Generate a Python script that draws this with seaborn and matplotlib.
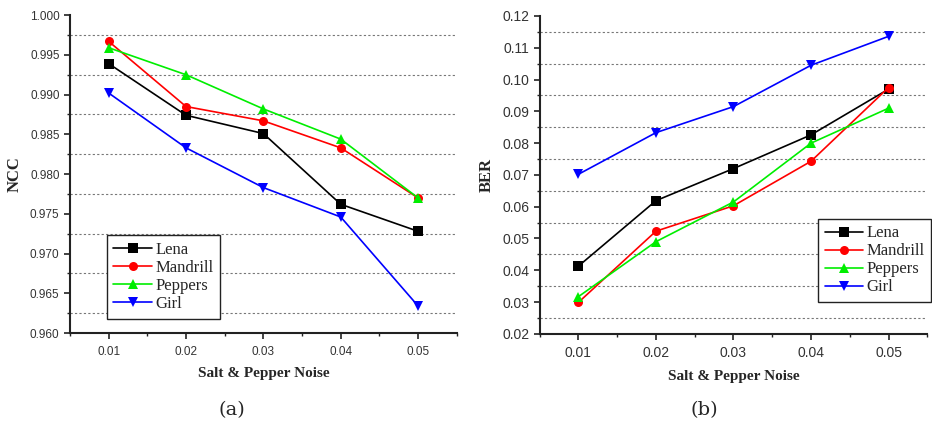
import matplotlib
matplotlib.use("Agg")
import matplotlib.pyplot as plt
import seaborn as sns
import pandas as pd
from matplotlib.ticker import MultipleLocator, FormatStrFormatter

noise = [0.01, 0.02, 0.03, 0.04, 0.05]
images = ["Lena", "Mandrill", "Peppers", "Girl"]

ncc_lena = [0.9939, 0.9874, 0.9851, 0.9762, 0.9728]
ncc_mandrill = [0.9967, 0.9885, 0.9867, 0.9833, 0.9770]
ncc_peppers = [0.9959, 0.9925, 0.9882, 0.9844, 0.9770]
ncc_girl = [0.9902, 0.9833, 0.9783, 0.9746, 0.9634]

ber_lena = [0.0413, 0.0619, 0.0720, 0.0826, 0.0970]
ber_mandrill = [0.0299, 0.0523, 0.0603, 0.0743, 0.0975]
ber_peppers = [0.0317, 0.0490, 0.0615, 0.0800, 0.0910]
ber_girl = [0.0702, 0.0833, 0.0915, 0.1045, 0.1136]

colors = {"Lena": "#000000", "Mandrill": "#ff0000", "Peppers": "#00ee00", "Girl": "#0000ff"}
markers = {"Lena": "s", "Mandrill": "o", "Peppers": "^", "Girl": "v"}

def long_df(series):
    rows = []
    for name, vals in zip(images, series):
        for x, v in zip(noise, vals):
            rows.append({"noise": x, "value": v, "image": name})
    return pd.DataFrame(rows)

df_ncc = long_df([ncc_lena, ncc_mandrill, ncc_peppers, ncc_girl])
df_ber = long_df([ber_lena, ber_mandrill, ber_peppers, ber_girl])

sns.set_style("ticks")
fig = plt.figure(figsize=(9.32, 4.21), dpi=100)
ax1 = fig.add_axes([0.0751, 0.209, 0.415, 0.755])
ax2 = fig.add_axes([0.579, 0.207, 0.416, 0.755])

tick_font = "Liberation Sans"
serif = "Liberation Serif"

def draw(ax, df, ylabel, ylim, major, minor, fmt, tick_fs, legend_loc):
    sns.lineplot(data=df, x="noise", y="value", hue="image", style="image",
                 palette=colors, markers=markers, dashes=False, ax=ax,
                 linewidth=1.2, markersize=6.5, markeredgewidth=0,
                 hue_order=images, style_order=images)
    ax.set_xlim(0.005, 0.055)
    ax.set_ylim(*ylim)
    ax.xaxis.set_major_locator(MultipleLocator(0.01))
    ax.xaxis.set_minor_locator(MultipleLocator(0.005))
    ax.xaxis.set_major_formatter(FormatStrFormatter("%.2f"))
    ax.yaxis.set_major_locator(MultipleLocator(major))
    ax.yaxis.set_minor_locator(MultipleLocator(minor))
    ax.yaxis.set_major_formatter(FormatStrFormatter(fmt))
    ax.grid(False)
    ax.yaxis.grid(True, which="minor", linestyle=(0, (2, 2)), color="#777777", linewidth=0.8)
    for s in ["top", "right"]:
        ax.spines[s].set_visible(False)
    for s in ["left", "bottom"]:
        ax.spines[s].set_linewidth(1.5)
        ax.spines[s].set_color("#222222")
    ax.tick_params(which="major", direction="out", length=4, width=1.2, colors="#222222",
                   labelsize=tick_fs, labelcolor="#333333")
    ax.tick_params(which="minor", direction="out", length=2.5, width=1.0, colors="#222222")
    ax.tick_params(axis="x", pad=5)
    for lab in ax.get_xticklabels() + ax.get_yticklabels():
        lab.set_fontfamily(tick_font)
    ax.set_xlabel("Salt & Pepper Noise", fontfamily=serif, fontweight="bold", fontsize=11, labelpad=7)
    ax.set_ylabel(ylabel, fontfamily=serif, fontweight="bold", fontsize=12, labelpad=5)
    leg = ax.legend(loc=legend_loc, prop={"family": serif, "size": 12},
                    frameon=True, fancybox=False, framealpha=1, edgecolor="#222222",
                    handlelength=2.3, handletextpad=0.2, labelspacing=0.12,
                    borderpad=0.4, borderaxespad=0)
    leg.get_frame().set_linewidth(1.0)
    return leg

leg1 = draw(ax1, df_ncc, "NCC", (0.960, 1.000), 0.005, 0.0025, "%.3f", 8.5, "lower left")
leg1.set_bbox_to_anchor((0.095, 0.045), transform=ax1.transAxes)
leg2 = draw(ax2, df_ber, "BER", (0.02, 0.12), 0.01, 0.005, "%.2f", 10, "lower right")
leg2.set_bbox_to_anchor((1.01, 0.1), transform=ax2.transAxes)

fig.text(0.249, 0.026, "(a)", ha="center", va="center", fontsize=14, fontfamily="DejaVu Serif")
fig.text(0.756, 0.026, "(b)", ha="center", va="center", fontsize=14, fontfamily="DejaVu Serif")

fig.savefig("out.png", dpi=100)
